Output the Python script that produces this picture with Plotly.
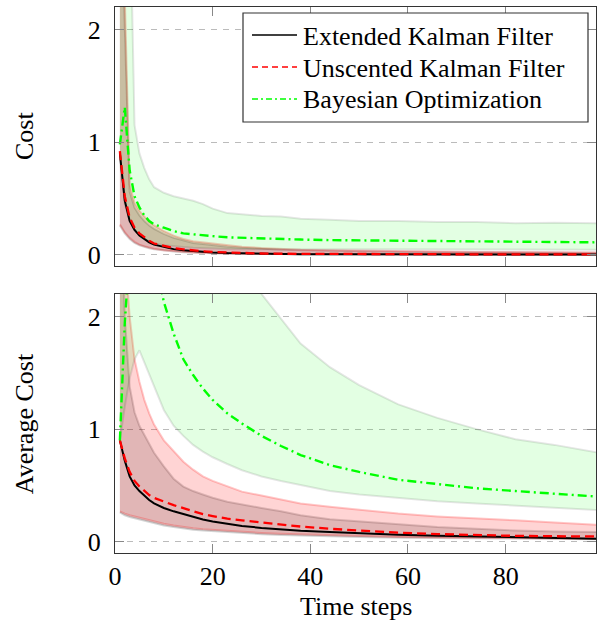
import plotly.graph_objects as go

# ---------------- data ----------------
steps = [1, 2, 3, 4, 5, 6, 7, 8, 10, 12, 14, 16, 18, 20, 23, 26, 30, 34, 38, 44, 50, 58, 66, 74, 82, 90, 99]

# Top panel: Cost
top_ekf_mean = [0.9, 0.48, 0.3, 0.22, 0.17, 0.14, 0.11, 0.09, 0.07, 0.05, 0.04, 0.032, 0.025, 0.02, 0.015, 0.012, 0.008, 0.006, 0.005, 0.004, 0.004, 0.003, 0.003, 0.002, 0.002, 0.002, 0.002]
top_ekf_upper = [3.5, 2.1, 0.56, 0.42, 0.35, 0.3, 0.26, 0.23, 0.185, 0.15, 0.125, 0.105, 0.095, 0.085, 0.072, 0.062, 0.052, 0.045, 0.04, 0.035, 0.03, 0.026, 0.024, 0.022, 0.02, 0.019, 0.018]
top_ekf_lower = [0.26, 0.19, 0.14, 0.105, 0.085, 0.07, 0.058, 0.049, 0.037, 0.029, 0.023, 0.019, 0.015, 0.012, 0.009, 0.007, 0.005, 0.004, 0.003, 0.003, 0.002, 0.002, 0.001, 0.001, 0.001, 0.001, 0.001]

top_ukf_mean = [0.92, 0.52, 0.33, 0.24, 0.19, 0.155, 0.125, 0.1, 0.08, 0.06, 0.048, 0.038, 0.03, 0.025, 0.019, 0.015, 0.011, 0.009, 0.008, 0.007, 0.006, 0.005, 0.005, 0.004, 0.004, 0.004, 0.004]
top_ukf_upper = [3.5, 2.3, 0.62, 0.46, 0.39, 0.34, 0.29, 0.26, 0.21, 0.17, 0.14, 0.12, 0.11, 0.1, 0.085, 0.072, 0.06, 0.05, 0.045, 0.04, 0.035, 0.03, 0.028, 0.025, 0.024, 0.022, 0.02]
top_ukf_lower = [0.27, 0.2, 0.15, 0.115, 0.09, 0.075, 0.062, 0.053, 0.04, 0.032, 0.026, 0.021, 0.017, 0.014, 0.011, 0.009, 0.007, 0.006, 0.005, 0.004, 0.003, 0.003, 0.002, 0.002, 0.002, 0.002, 0.002]

top_bo_mean = [0.98, 1.31, 0.75, 0.52, 0.42, 0.35, 0.3, 0.27, 0.24, 0.21, 0.19, 0.18, 0.17, 0.165, 0.155, 0.15, 0.145, 0.14, 0.135, 0.13, 0.128, 0.125, 0.12, 0.12, 0.118, 0.115, 0.11]
top_bo_upper = [3.5, 3.5, 3.3, 1.15, 0.9, 0.77, 0.67, 0.6, 0.55, 0.52, 0.5, 0.48, 0.45, 0.41, 0.37, 0.36, 0.345, 0.34, 0.32, 0.31, 0.3, 0.3, 0.29, 0.29, 0.28, 0.285, 0.28]
top_bo_lower = [0.85, 0.45, 0.3, 0.22, 0.17, 0.14, 0.12, 0.1, 0.085, 0.075, 0.068, 0.062, 0.058, 0.055, 0.052, 0.05, 0.05, 0.049, 0.049, 0.048, 0.048, 0.047, 0.047, 0.046, 0.046, 0.045, 0.045]

# Bottom panel: Average Cost
bot_ekf_mean = [0.9, 0.72, 0.58, 0.5, 0.45, 0.41, 0.37, 0.34, 0.3, 0.27, 0.245, 0.22, 0.197, 0.18, 0.158, 0.14, 0.123, 0.11, 0.097, 0.086, 0.075, 0.062, 0.053, 0.045, 0.038, 0.032, 0.027]
bot_ekf_upper = [3.5, 2.0, 1.38, 1.15, 1.03, 0.95, 0.86, 0.79, 0.67, 0.56, 0.49, 0.45, 0.42, 0.39, 0.355, 0.33, 0.3, 0.27, 0.235, 0.2, 0.18, 0.15, 0.13, 0.115, 0.1, 0.092, 0.085]
bot_ekf_lower = [0.26, 0.235, 0.22, 0.205, 0.195, 0.185, 0.175, 0.165, 0.145, 0.13, 0.117, 0.107, 0.099, 0.092, 0.083, 0.076, 0.067, 0.06, 0.054, 0.047, 0.042, 0.036, 0.032, 0.029, 0.026, 0.024, 0.022]

bot_ukf_mean = [0.9, 0.74, 0.62, 0.54, 0.49, 0.45, 0.415, 0.39, 0.355, 0.325, 0.298, 0.27, 0.245, 0.228, 0.205, 0.19, 0.17, 0.155, 0.135, 0.115, 0.1, 0.08, 0.068, 0.058, 0.052, 0.049, 0.047]
bot_ukf_upper = [3.5, 2.6, 2.0, 1.62, 1.42, 1.26, 1.14, 1.04, 0.9, 0.8, 0.71, 0.64, 0.58, 0.54, 0.49, 0.445, 0.41, 0.375, 0.34, 0.31, 0.285, 0.25, 0.225, 0.21, 0.19, 0.17, 0.15]
bot_ukf_lower = [0.27, 0.25, 0.235, 0.22, 0.21, 0.2, 0.19, 0.18, 0.16, 0.145, 0.13, 0.12, 0.112, 0.105, 0.095, 0.088, 0.078, 0.07, 0.062, 0.055, 0.05, 0.043, 0.038, 0.034, 0.03, 0.028, 0.026]

bot_bo_mean = [0.9, 1.94, 2.6, 2.9, 3.0, 2.95, 2.8, 2.55, 2.13, 1.85, 1.62, 1.48, 1.36, 1.26, 1.14, 1.05, 0.94, 0.85, 0.77, 0.68, 0.62, 0.55, 0.51, 0.475, 0.45, 0.425, 0.4]
bot_bo_upper = [3.5, 4.0, 4.4, 4.6, 4.7, 4.6, 4.5, 4.3, 4.0, 3.7, 3.45, 3.2, 3.0, 2.85, 2.6, 2.42, 2.2, 1.98, 1.76, 1.55, 1.39, 1.22, 1.1, 1.0, 0.91, 0.86, 0.79]
bot_bo_lower = [0.9, 1.2, 1.45, 1.62, 1.7, 1.6, 1.49, 1.38, 1.17, 1.03, 0.94, 0.86, 0.8, 0.75, 0.69, 0.635, 0.58, 0.54, 0.5, 0.45, 0.42, 0.39, 0.36, 0.34, 0.32, 0.3, 0.28]

x_ticks = [0, 20, 40, 60, 80]
y_ticks = [0, 1, 2]
series_names = ["Extended Kalman Filter", "Unscented Kalman Filter", "Bayesian Optimization"]

# ---------------- styles ----------------
FONT = "Liberation Serif"
FS = 26
band_fill = ["rgba(0,0,0,0.14)", "rgba(255,0,0,0.17)", "rgba(0,255,0,0.11)"]
band_edge = ["rgba(0,0,0,0.16)", "rgba(255,0,0,0.22)", "rgba(0,0,0,0.10)"]
line_col = ["#000000", "#ff0000", "#00ff00"]
line_dash = ["solid", "9px,5px", "9px,4px,2px,4px"]
legend_dash = ["solid", "6px,4px", "6px,3px,2px,3px"]
line_w = [2.0, 2.3, 2.4]
legend_line_w = [1.3, 1.3, 1.3]

W, H = 597, 626
ML, MR, MT, MB = 115, 1, 7, 73
PW, PH = W - ML - MR, H - MT - MB


def px_x(p):
    return (p - ML) / PW


def px_y(p):
    return (H - MB - p) / PH


fig = go.Figure()

panels = [
    ("x", "y", [top_ekf_mean, top_ukf_mean, top_bo_mean],
     [top_ekf_upper, top_ukf_upper, top_bo_upper],
     [top_ekf_lower, top_ukf_lower, top_bo_lower]),
    ("x2", "y2", [bot_ekf_mean, bot_ukf_mean, bot_bo_mean],
     [bot_ekf_upper, bot_ukf_upper, bot_bo_upper],
     [bot_ekf_lower, bot_ukf_lower, bot_bo_lower]),
]

for xa, ya, means, uppers, lowers in panels:
    for i in range(3):
        fig.add_trace(go.Scatter(
            x=steps + steps[::-1], y=uppers[i] + lowers[i][::-1],
            fill="toself", fillcolor=band_fill[i], mode="lines",
            line=dict(color=band_edge[i], width=2),
            xaxis=xa, yaxis=ya, showlegend=False, hoverinfo="skip"))
    for i in range(3):
        fig.add_trace(go.Scatter(
            x=steps, y=means[i], mode="lines", name=series_names[i],
            line=dict(color=line_col[i], width=line_w[i], dash=line_dash[i]),
            xaxis=xa, yaxis=ya, showlegend=False))

axis_common = dict(
    showline=True, linecolor="#333333", linewidth=1.2, mirror="allticks",
    ticks="inside", ticklen=9, tickcolor="#888888", tickwidth=1,
    tickfont=dict(family=FONT, size=FS, color="black"), zeroline=False,
    automargin=False,
)

# legend drawn as a framed box with line samples and text
legend_rows = [35, 67, 99]
shapes = [dict(type="rect", xref="paper", yref="paper",
               x0=px_x(243), x1=px_x(588), y0=px_y(122), y1=px_y(13),
               line=dict(color="#333333", width=1.2), fillcolor="white", layer="above")]
annotations = []
for i, row in enumerate(legend_rows):
    shapes.append(dict(type="line", xref="paper", yref="paper",
                       x0=px_x(252), x1=px_x(297), y0=px_y(row), y1=px_y(row),
                       line=dict(color=line_col[i], width=legend_line_w[i], dash=legend_dash[i]),
                       layer="above"))
    annotations.append(dict(text=series_names[i], xref="paper", yref="paper",
                            x=px_x(301), y=px_y(row + 1), xanchor="left", yanchor="middle",
                            showarrow=False, font=dict(family=FONT, size=FS, color="black")))

annotations += [
    dict(text="Cost", xref="paper", yref="paper", x=-0.188, y=0.763,
         xanchor="center", yanchor="middle", textangle=-90, showarrow=False,
         font=dict(family=FONT, size=FS)),
    dict(text="Average Cost", xref="paper", yref="paper", x=-0.188, y=0.237,
         xanchor="center", yanchor="middle", textangle=-90, showarrow=False,
         font=dict(family=FONT, size=FS)),
    dict(text="Time steps", xref="paper", yref="paper", x=0.5, y=-0.098,
         xanchor="center", yanchor="middle", showarrow=False,
         font=dict(family=FONT, size=FS)),
]

fig.update_layout(
    width=W, height=H,
    margin=dict(l=ML, r=MR, t=MT, b=MB),
    paper_bgcolor="white", plot_bgcolor="white",
    font=dict(family=FONT, size=FS, color="black"),
    showlegend=False,
    xaxis=dict(domain=[0, 1], anchor="y", range=[0, 98.5], tickvals=x_ticks,
               showticklabels=False, showgrid=False, **axis_common),
    yaxis=dict(domain=[0.5256, 1], anchor="x", range=[-0.1, 2.2], tickvals=y_ticks,
               showgrid=True, gridcolor="#bbbbbb", griddash="6px,6px", gridwidth=1,
               ticklabelstandoff=8, **axis_common),
    xaxis2=dict(domain=[0, 1], anchor="y2", range=[0, 98.5], tickvals=x_ticks,
                showgrid=False, ticklabelstandoff=0, **axis_common),
    yaxis2=dict(domain=[0, 0.4744], anchor="x2", range=[-0.1, 2.2], tickvals=y_ticks,
                showgrid=True, gridcolor="#bbbbbb", griddash="6px,6px", gridwidth=1,
                ticklabelstandoff=8, **axis_common),
    shapes=shapes,
    annotations=annotations,
)

fig.write_html("out.html", config={"displayModeBar": False},
               post_script="document.body.style.margin='0';")
